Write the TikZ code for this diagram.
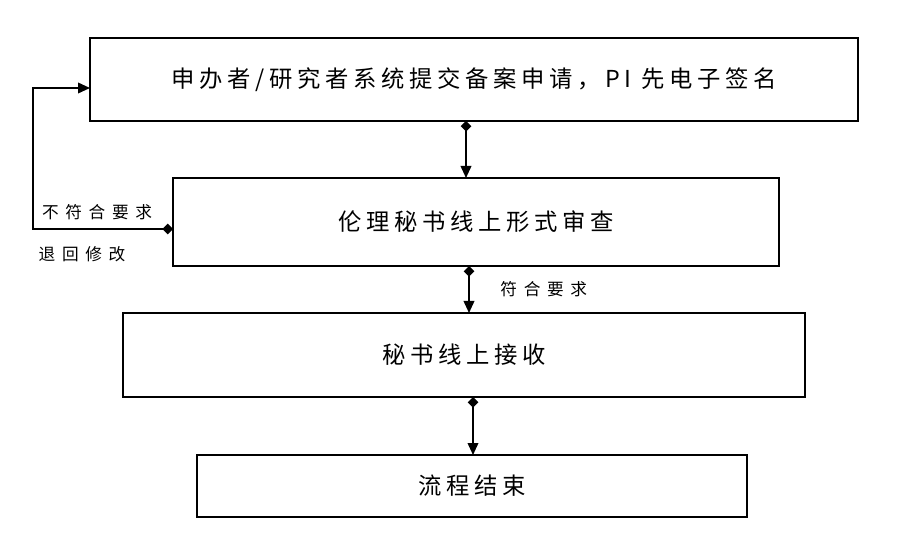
\documentclass[tikz,border=0pt]{standalone}
\usepackage{fontspec}
\newfontfamily\cjk[LetterSpace=20]{Noto Sans CJK SC}
\newfontfamily\cjklbl[LetterSpace=40]{Noto Sans CJK SC}
\usetikzlibrary{arrows.meta,positioning}
\tikzset{
  x=0.75pt,
  y=-0.75pt,
  box/.style={
    draw, line width=1.2pt, inner sep=0pt, outer sep=0pt,
    font=\cjk\fontsize{17.5}{20}\selectfont,
  },
  lbl/.style={font=\cjklbl\fontsize{12.5}{14}\selectfont, inner sep=1pt},
  flow/.style={line width=1.2pt, {Diamond[length=8pt,width=8pt]}-{Triangle[length=9pt,width=8pt]}},
}

\begin{document}
\begin{tikzpicture}
  \useasboundingbox (0,0) rectangle (900,552);
  \node[box, minimum width=576pt, minimum height=62pt](Apply) at (474,79.5){申办者/研究者系统提交备案申请，PI 先电子签名};
  \node[box, minimum width=454.5pt, minimum height=66pt](Check) at (476,222){伦理秘书线上形式审查};
  \node[box, minimum width=511.5pt, minimum height=63pt](Recv) at (464,355){秘书线上接收};
  \node[box, minimum width=412.5pt, minimum height=46.5pt](End) at (472,486){流程结束};
  %%
  \draw[flow](Apply.south -| 466,0) -- (Check.north -| 466,0);
  \draw[flow](Check.south -| 469,0) -- (Recv.north -| 469,0)
    node[lbl, pos=0.5, right=22pt]{符合要求};
  \draw[flow](Recv.south -| 473,0) -- (End.north -| 473,0);
  %%
  \coordinate (Back) at (33,88);
  \draw[flow](Check.west |- 0,229) -- (Back |- 0,229) -- (Back) -- (Apply.west |- Back);
  \node[lbl] at (97,212){不符合要求};
  \node[lbl] at (82,254){退回修改};
\end{tikzpicture}
\end{document}
